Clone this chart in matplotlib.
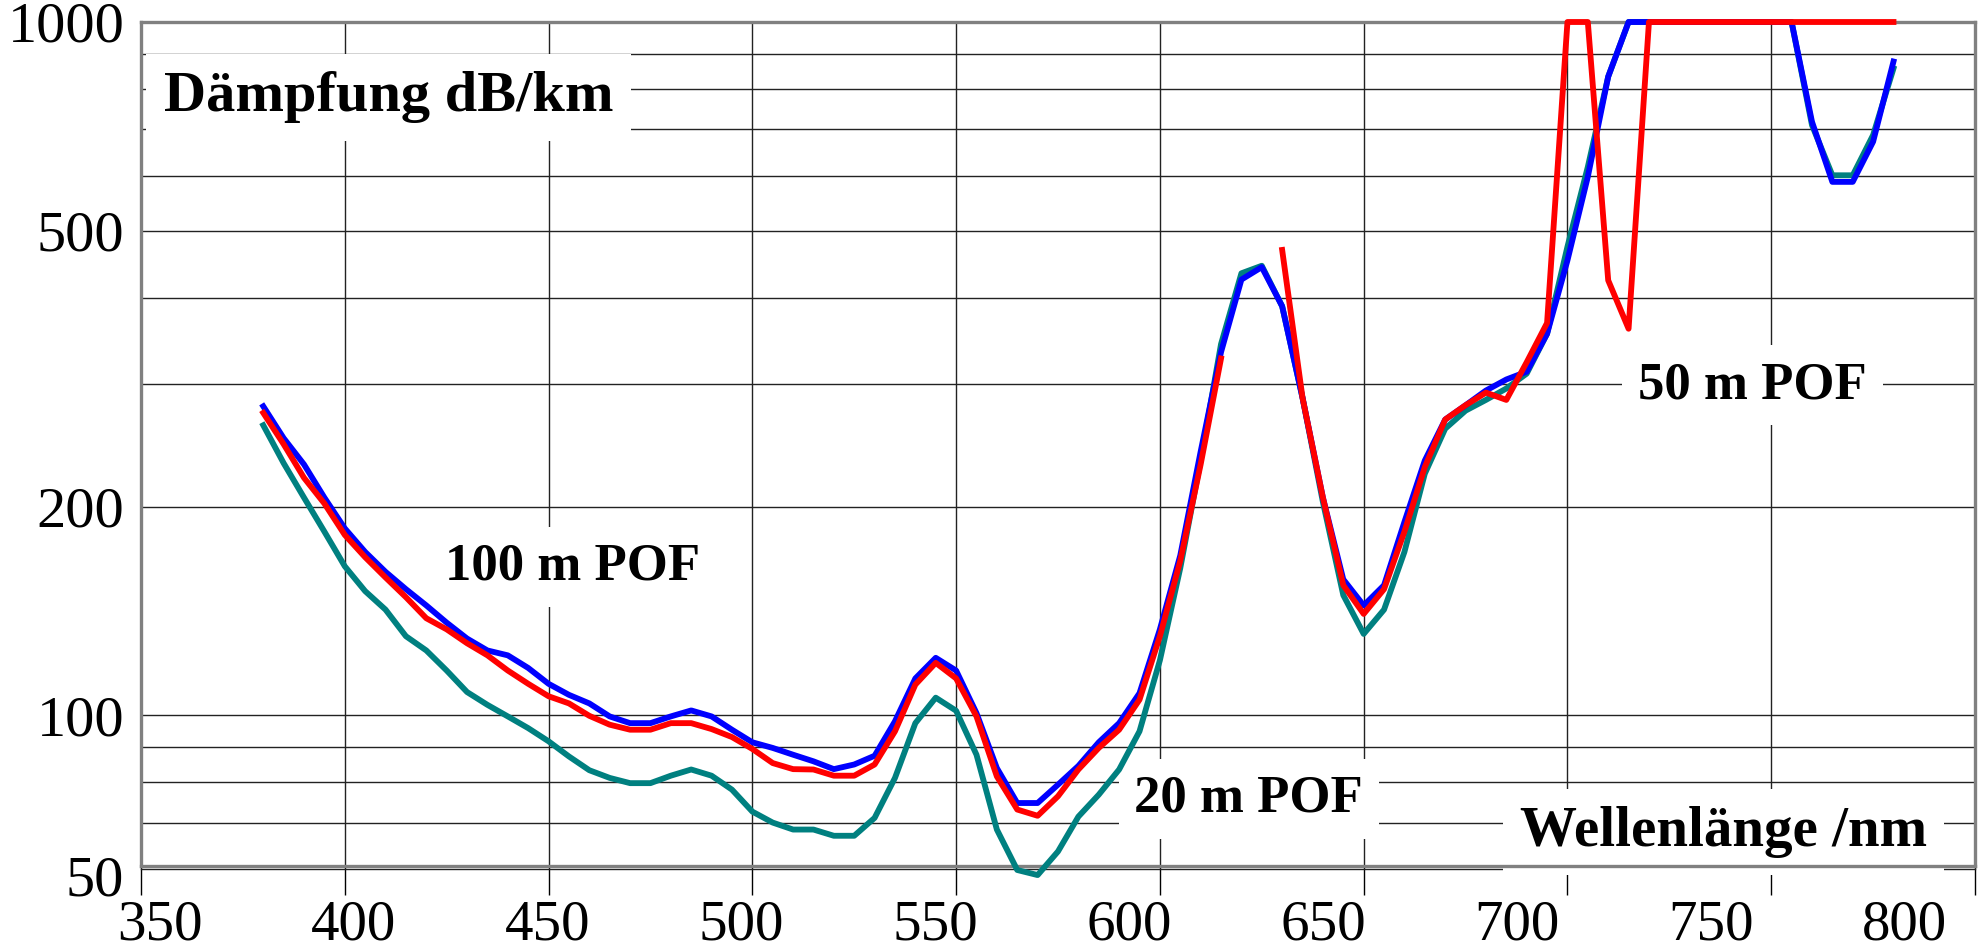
import matplotlib
matplotlib.use("Agg")
import matplotlib.pyplot as plt
import matplotlib.transforms as mtransforms
from matplotlib.ticker import FixedLocator, NullFormatter
import numpy as np

# wavelength grid of the measurement, nm
wavelength = np.arange(380, 785, 5)

# attenuation in dB/km (nan = gap in the curve)
att_blue = [
    279, 251, 230, 206, 186, 172, 161, 152, 144, 136, 129, 124, 122, 117, 111, 107,
    104, 99.6, 97.4, 97.4, 99.6, 101.6, 99.6, 95.3, 91.4, 89.7, 87.7, 85.8, 83.6, 84.9,
    87.4, 98, 113, 121, 116, 100.7, 83.9, 74.7, 74.7, 79.4, 84.5, 91.4, 97.4, 107.6,
    133, 170, 240, 334, 425, 443, 389, 287, 206, 157, 144, 154, 190, 233, 267, 280,
    294, 305, 313, 355, 453, 598, 834, 1000, 1000, 1000, 1000, 1000, 1000, 1000, 1000,
    1000, 718, 588, 588, 672, 877,
]
att_red = [
    273, 246, 220, 202, 182, 169, 158, 148, 138, 133, 127, 122, 116, 111, 106.5, 104,
    99.8, 96.9, 95.3, 95.3, 97.4, 97.4, 95.5, 93, 89.4, 85.3, 83.6, 83.5, 81.8, 81.8,
    84.9, 94.8, 110.7, 119, 113, 99.6, 81.6, 73.1, 71.6, 76.4, 83.5, 89.7, 95.3, 105.3,
    130, 167, 230, 327, np.nan, np.nan, 469, 287, 206, 154, 140, 152, 184, 228, 267, 280,
    292, 285, 323, 368, 1000, 1000, 424, 361, 1000, 1000, 1000, 1000, 1000, 1000, 1000,
    1000, 1000, 1000, 1000, 1000, 1000,
]
att_teal = [
    262, 231, 206, 184, 164, 151, 142, 130, 124, 116, 108, 103.5, 99.6, 95.8, 91.7, 87.2,
    83.3, 81.2, 79.8, 79.8, 81.8, 83.5, 81.8, 78.1, 72.6, 70, 68.4, 68.4, 67, 67,
    71.1, 81.2, 97.4, 106, 101.5, 87.7, 68.4, 59.8, 58.8, 63.6, 71.4, 76.8, 83.5, 94.8,
    120, 163, 233, 343, 434, 445, 389, 287, 203, 149, 131, 142, 172, 223, 259, 275,
    285, 296, 311, 355, 474, 618, 834, 1000, 1000, 1000, 1000, 1000, 1000, 1000, 1000,
    1000, 710, 601, 601, 687, 857,
]

x_ticks = [350, 400, 450, 500, 550, 600, 650, 700, 750, 800]
y_bottom = 60.6
y_ticks = [y_bottom, 100, 200, 500, 1000]
y_tick_labels = ["50", "100", "200", "500", "1000"]
y_grid_minor = [70, 80, 90, 300, 400, 600, 700, 800, 900]

plt.rcParams["font.family"] = ["Liberation Serif", "DejaVu Serif"]

W, H = 1982, 952
fig = plt.figure(figsize=(W / 100, H / 100), dpi=100)
ax = fig.add_axes([141 / W, (H - 866) / H, 1834 / W, 844 / H])

lw = 4.2
ax.plot(wavelength, att_teal, color="#008080", lw=lw, clip_on=False, zorder=3)
ax.plot(wavelength, att_blue, color="#0000ff", lw=lw, clip_on=False, zorder=4)
ax.plot(wavelength, att_red, color="#ff0000", lw=lw, clip_on=False, zorder=5)

ax.set_yscale("log")
ax.set_xlim(350, 800)
ax.set_ylim(y_bottom, 1000)

ax.set_xticks(x_ticks)
ax.set_xticklabels([str(t) for t in x_ticks])
ax.yaxis.set_major_locator(FixedLocator(y_ticks))
ax.set_yticklabels(y_tick_labels)
ax.yaxis.set_minor_locator(FixedLocator(y_grid_minor))
ax.yaxis.set_minor_formatter(NullFormatter())

ax.tick_params(axis="x", direction="out", length=21, width=1.0, color="black",
               labelsize=41, pad=3)
ax.tick_params(axis="y", which="both", length=0, labelsize=42, pad=12)

# in the original the x labels are spaced a bit tighter than the grid
for i, lab in enumerate(ax.get_xticklabels()):
    dx = (19 - 9.9 * i) / 100
    lab.set_transform(lab.get_transform() +
                      mtransforms.ScaledTranslation(dx, 0, fig.dpi_scale_trans))

# "50" sits a little below the bottom frame line
for lab in ax.get_yticklabels():
    if lab.get_text() == "50":
        lab.set_transform(lab.get_transform() +
                          mtransforms.ScaledTranslation(0, -0.1, fig.dpi_scale_trans))

ax.grid(True, which="major", axis="x", color="#222222", lw=1.0)
ax.grid(True, which="both", axis="y", color="#222222", lw=1.0)
ax.axhline(60, color="#222222", lw=1.0, clip_on=False, zorder=1)
ax.set_axisbelow(True)

for sp in ax.spines.values():
    sp.set_color("#808080")
    sp.set_linewidth(2.4)

box = dict(boxstyle="square,pad=0.3", facecolor="white", edgecolor="none")
ax.text(0.135, 0.8945, "Dämpfung dB/km", transform=ax.transAxes, ha="center",
        va="baseline", fontsize=42, fontweight="bold", bbox=box, zorder=6)
ax.text(0.2355, 0.3389, "100 m POF", transform=ax.transAxes, ha="center",
        va="baseline", fontsize=38, fontweight="bold", bbox=box, zorder=2)
ax.text(0.604, 0.064, "20 m POF", transform=ax.transAxes, ha="center",
        va="baseline", fontsize=38, fontweight="bold", bbox=box, zorder=2)
ax.text(0.8787, 0.5545, "50 m POF", transform=ax.transAxes, ha="center",
        va="baseline", fontsize=38, fontweight="bold", bbox=box, zorder=2)
ax.text(0.8629, 0.0237, "Wellenlänge /nm", transform=ax.transAxes, ha="center",
        va="baseline", fontsize=41, fontweight="bold", bbox=box, zorder=2)

fig.savefig("out.png", dpi=100)
